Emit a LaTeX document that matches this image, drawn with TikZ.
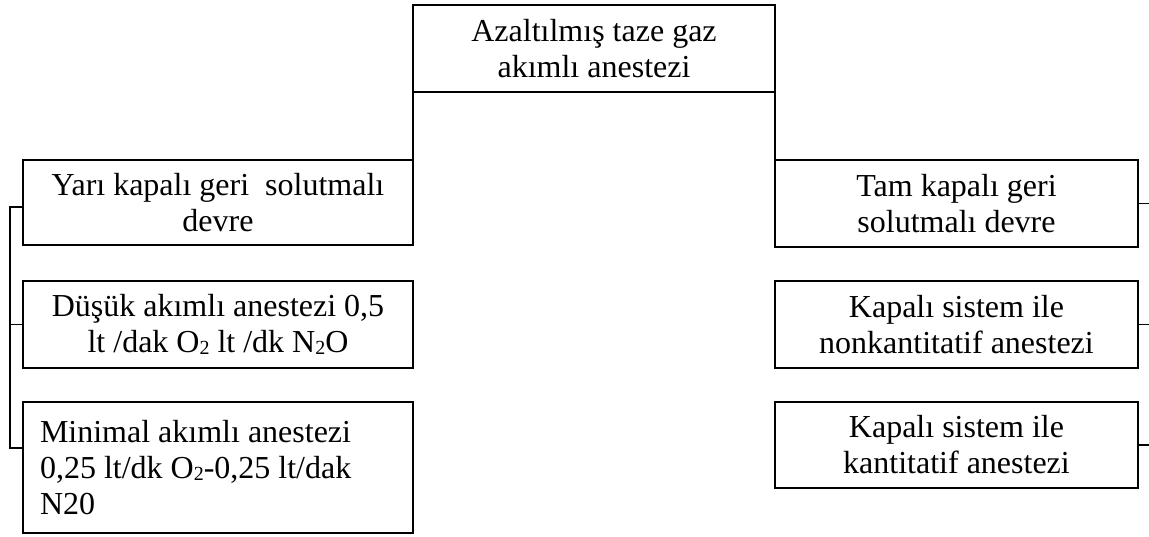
\documentclass[tikz,border=0pt]{standalone}
\usepackage{fontspec}
\setmainfont{Liberation Serif}
\newcommand{\lowtwo}{\raisebox{-2pt}{\fontsize{20}{20}\selectfont 2}}
\begin{document}
\begin{tikzpicture}[x=1pt,y=-1pt,
  box/.style={draw, line width=1.1pt, inner sep=0pt, outer sep=0pt, align=center,
    font=\fontsize{32}{36}\selectfont},
  conn/.style={line width=1.1pt}]
\useasboundingbox (0,0) rectangle (1149,536);
\node[box, minimum width=362pt, minimum height=87pt] (root) at (594,48.5)
  {Azaltılmış taze gaz\\akımlı anestezi};
\node[box, minimum width=390pt, minimum height=85pt] (L1) at (218,202.5)
  {Yarı kapalı geri\ \ solutmalı\\devre};
\node[box, minimum width=390pt, minimum height=87pt] (L2) at (218,324.5)
  {Düşük akımlı anestezi 0,5\\lt /dak O\lowtwo{} lt /dk N\lowtwo O};
\node[box, minimum width=390pt, minimum height=131pt, align=flush left,
  text width=356pt, inner xsep=17pt] (L3) at (218,467.5)
  {Minimal akımlı anestezi\\0,25 lt/dk O\lowtwo-0,25 lt/dak\\N20};
\node[box, minimum width=363pt, minimum height=87pt] (R1) at (956.5,203.5)
  {Tam kapalı geri\\solutmalı devre};
\node[box, minimum width=363pt, minimum height=87pt] (R2) at (956.5,324.5)
  {Kapalı sistem ile\\nonkantitatif anestezi};
\node[box, minimum width=363pt, minimum height=86pt] (R3) at (956.5,445)
  {Kapalı sistem ile\\kantitatif anestezi};
% trunk connectors
\draw[conn] (root.south west) -- (L1.north east);
\draw[conn] (root.south east) -- (R1.north west);
% left bus
\coordinate (l1s) at ([yshift=-47pt]L1.north west);
\coordinate (l3s) at ([yshift=-46pt]L3.north west);
\coordinate (lbt) at (10,207);
\draw[conn] (l1s) -- (lbt) -- (lbt |- l3s) -- (l3s);
\draw[conn] (L2.west) -- (lbt |- L2.west);
% right stubs
\coordinate (rb) at (1149,0);
\draw[conn] (R1.east) -- (rb |- R1.east);
\draw[conn] (R2.east) -- (rb |- R2.east);
\draw[conn] (R3.east) -- (rb |- R3.east);
\end{tikzpicture}
\end{document}
